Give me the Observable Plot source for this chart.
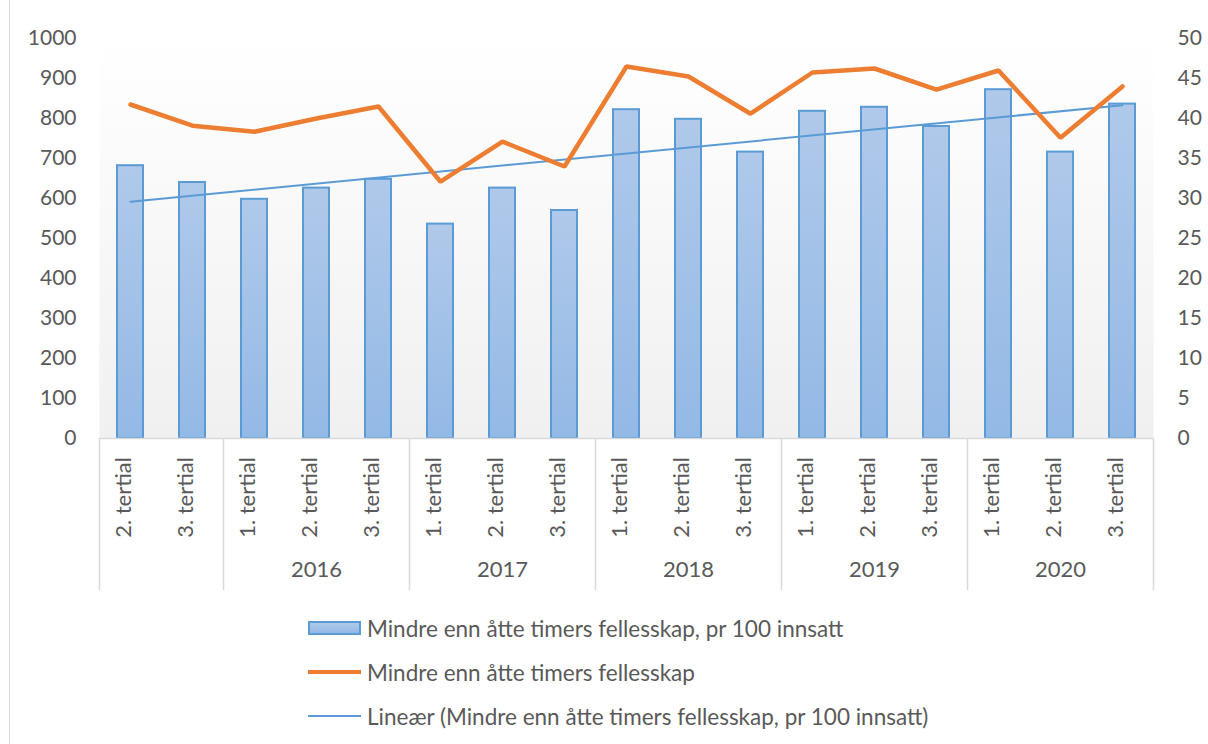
<!DOCTYPE html>
<html><head><meta charset="utf-8">
<script src="https://cdn.jsdelivr.net/npm/d3@7"></script>
<script src="https://cdn.jsdelivr.net/npm/@observablehq/plot@0.6"></script>
<style>
body{margin:0;background:#fff;}
#wrap{position:relative;width:1208px;height:744px;overflow:hidden;font-family:Lato, "Open Sans", sans-serif;}
#border{position:absolute;left:9px;top:0;width:1px;height:744px;background:#d9d9d9;}
#chart{position:absolute;left:0;top:0;}
.row{position:absolute;left:308px;height:30px;display:flex;align-items:center;color:#595959;font-size:22.5px;white-space:nowrap;}
.sw{width:53px;margin-right:6px;box-sizing:border-box;}
</style></head><body>
<div id="wrap"><div id="border"></div><div id="chart"></div><div id="legend"></div></div>
<script>
const tertial = ["2. tertial","3. tertial","1. tertial","2. tertial","3. tertial","1. tertial","2. tertial","3. tertial","1. tertial","2. tertial","3. tertial","1. tertial","2. tertial","3. tertial","1. tertial","2. tertial","3. tertial"];
const year = ["","","2016","2016","2016","2017","2017","2017","2018","2018","2018","2019","2019","2019","2020","2020","2020"];
const per100 = [34.1,32.0,29.9,31.3,32.4,26.8,31.3,28.5,41.1,39.9,35.8,40.9,41.4,39.0,43.6,35.8,41.8];
const count = [835,782,767,800,830,642,742,680,930,905,812,915,925,872,920,752,880];
const leftTicks = [0,100,200,300,400,500,600,700,800,900,1000];
const rightTicks = [0,5,10,15,20,25,30,35,40,45,50];
const seriesNames = ["Mindre enn åtte timers fellesskap, pr 100 innsatt","Mindre enn åtte timers fellesskap","Lineær (Mindre enn åtte timers fellesskap, pr 100 innsatt)"];

const k = 1000 / 50;
const data = tertial.map((t, i) => ({i, t, year: year[i], per100: per100[i], count: count[i]}));
const groups = d3.groups(data, d => d.year).map(([y, items]) => ({year: y, start: items[0].i, end: items[items.length - 1].i + 1}));
const boundaries = [0, ...groups.map(g => g.end)];
const font = "Lato, 'Open Sans', sans-serif";

const plot = Plot.plot({
  width: 1208, height: 600,
  marginLeft: 99, marginRight: 55, marginTop: 38, marginBottom: 162,
  x: {domain: [0, data.length], axis: null},
  y: {domain: [0, 1000], axis: null},
  style: {fontFamily: font, fontSize: "21px", color: "#595959", background: "transparent", overflow: "visible"},
  marks: [
    Plot.frame({fill: "url(#bgGrad)", stroke: null}),
    Plot.rectY(data, {x1: "i", x2: d => d.i + 1, y: d => d.per100 * k, insetLeft: 18, insetRight: 18, fill: "url(#barGrad)", stroke: "#5b9bd5", strokeWidth: 2}),
    Plot.ruleY([0], {stroke: "#d9d9d9", strokeWidth: 1.5}),
    Plot.ruleX(boundaries, {stroke: "#d9d9d9", strokeWidth: 1.5, insetTop: 248, dy: 152}),
    Plot.linearRegressionY(data, {x: d => d.i + 0.5, y: d => d.per100 * k, stroke: "#5b9bd5", strokeWidth: 2, ci: 0}),
    Plot.lineY(data, {x: d => d.i + 0.5, y: "count", stroke: "#ed7d31", strokeWidth: 4.5, strokeLinejoin: "miter"}),
    Plot.axisY(leftTicks, {anchor: "left", label: null, tickSize: 0, tickPadding: 23, tickFormat: d => String(d), fontSize: 21, fill: "#595959"}),
    Plot.axisY(rightTicks.map(v => v * k), {anchor: "right", label: null, tickSize: 0, tickPadding: 24, tickFormat: d => String(d / k), fontSize: 21, fill: "#595959"}),
    Plot.text(data, {x: d => d.i + 0.5, frameAnchor: "bottom", dy: 59, rotate: -90, text: "t", fontSize: 22, fill: "#595959"}),
    Plot.text(groups.filter(g => g.year), {x: g => (g.start + g.end) / 2, frameAnchor: "bottom", dy: 138, text: "year", fontSize: 22, fill: "#595959"})
  ]
});

const svg = d3.select(plot);
const defs = svg.insert("defs", ":first-child");
const bg = defs.append("linearGradient").attr("id", "bgGrad").attr("x1", 0).attr("y1", 0).attr("x2", 0).attr("y2", 1);
bg.append("stop").attr("offset", "0%").attr("stop-color", "#ffffff");
bg.append("stop").attr("offset", "100%").attr("stop-color", "#f0f0f0");
const bar = defs.append("linearGradient").attr("id", "barGrad").attr("x1", 0).attr("y1", 0).attr("x2", 0).attr("y2", 1);
bar.append("stop").attr("offset", "0%").attr("stop-color", "#b0c9ea");
bar.append("stop").attr("offset", "100%").attr("stop-color", "#93b9e5");
document.getElementById("chart").appendChild(plot);

const legend = document.getElementById("legend");
const rowsTop = [613, 657, 701];
seriesNames.forEach((name, j) => {
  const row = document.createElement("div");
  row.className = "row";
  row.style.top = rowsTop[j] + "px";
  const sw = document.createElement("div");
  sw.className = "sw";
  if (j === 0) { sw.style.height = "14px"; sw.style.border = "2px solid #5b9bd5"; sw.style.background = "linear-gradient(#b0c9ea,#93b9e5)"; }
  else if (j === 1) { sw.style.height = "4.5px"; sw.style.background = "#ed7d31"; }
  else { sw.style.height = "2px"; sw.style.background = "#5b9bd5"; }
  const tx = document.createElement("span");
  tx.textContent = name;
  row.appendChild(sw); row.appendChild(tx);
  legend.appendChild(row);
});
</script>
</body></html>
